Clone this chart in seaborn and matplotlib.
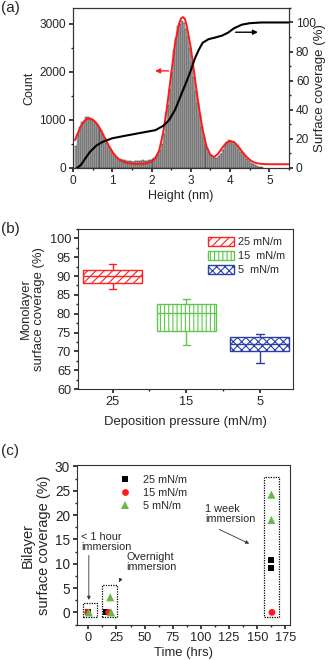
import numpy as np
import pandas as pd
import matplotlib.pyplot as plt
from matplotlib.patches import Patch, Rectangle
from matplotlib.ticker import MultipleLocator
import seaborn as sns


# (a) height histogram, 0.05 nm bins starting at 0.05 nm
HIST_START = 0.05
HIST_WIDTH = 0.05
HIST_COUNTS = [
    450, 700, 860, 950, 960, 1060, 1070, 1040, 1000, 980,
    940, 900, 850, 780, 700, 620, 520, 440, 380, 320,
    260, 220, 190, 180, 170, 165, 150, 140, 140, 130,
    150, 140, 140, 150, 160, 140, 150, 160, 170, 190,
    200, 240, 300, 380, 500, 700, 950, 1300, 1650, 2000,
    2450, 2700, 2950, 3000, 3050, 3020, 2900, 2750, 2500, 2200,
    1900, 1600, 1350, 1100, 850, 650, 500, 400, 320, 260,
    220, 200, 210, 240, 300, 380, 470, 540, 580, 570,
    540, 500, 450, 400, 340, 290, 240, 190, 150, 110,
    80, 60, 40, 30, 20, 10,
]

# (a) gaussian fit (red)
FIT_X = [0.05, 0.1, 0.2, 0.3, 0.4, 0.5, 0.6, 0.7, 0.8, 0.9, 1.0, 1.1, 1.2,
         1.3, 1.4, 1.5, 1.6, 1.7, 1.8, 1.9, 2.0, 2.1, 2.2, 2.3, 2.4, 2.5,
         2.6, 2.7, 2.75, 2.8, 2.85, 2.9, 3.0, 3.1, 3.2, 3.3, 3.4, 3.5, 3.6,
         3.7, 3.8, 3.9, 4.0, 4.1, 4.2, 4.3, 4.4, 4.5, 4.6, 4.7, 4.8, 4.9,
         5.0, 5.5]
FIT_Y = [580, 680, 870, 990, 1030, 1010, 930, 800, 640, 480, 340, 230, 160,
         120, 100, 90, 85, 85, 90, 100, 130, 200, 380, 750, 1300, 1950,
         2600, 3000, 3110, 3140, 3100, 2950, 2500, 1900, 1300, 800, 450, 270,
         230, 300, 420, 520, 560, 540, 460, 350, 250, 170, 120, 95, 85, 80,
         78, 78]

# (a) cumulative surface coverage (black)
COV_X = [0.1, 0.2, 0.3, 0.43, 0.6, 0.76, 1.0, 1.3, 1.6, 1.9, 2.1, 2.3, 2.45,
         2.6, 2.75, 2.9, 3.0, 3.1, 3.2, 3.3, 3.45, 3.6, 3.8, 3.95, 4.1, 4.3,
         4.5, 4.8, 5.5]
COV_Y = [0, 2, 6, 11, 15.5, 18, 20.4, 22, 23.5, 25, 26, 29, 33, 40, 50, 60,
         67, 75, 81, 86, 88.5, 89.5, 91, 93, 96, 98.5, 99.5, 100, 100]

# (b) monolayer coverage: min, q1, median, q3, max
PRESSURES = ["25", "15", "5"]
BOX_STATS = {
    "25": [86.6, 88.2, 90.0, 91.6, 93.3],
    "15": [71.8, 75.3, 80.2, 82.7, 83.9],
    "5": [67.0, 70.0, 72.0, 73.8, 74.6],
}
BOX_LABELS = ["25 mN/m", "15  mN/m", "5  mN/m"]
BOX_COLORS = ["#ff2020", "#5ec84a", "#2a3fa8"]
BOX_HATCHES = ["////", "||||", "xxxx"]

# (c) bilayer coverage vs time
SERIES = ["25 mN/m", "15 mN/m", "5 mN/m"]
TIME_25 = [0, 16, 162, 162]
COV_25 = [0, 0, 10.8, 9.1]
TIME_15 = [-0.5, 18, 163]
COV_15 = [0, 0, 0]
TIME_5 = [0.5, 19.5, 20.2, 162.5, 162.5]
COV_5 = [0, 3.1, 0, 24.2, 19.0]
SCATTER_COLORS = ["black", "#ff1a1a", "#66b84a"]
MARKERS = ["s", "o", "^"]
MARKER_SIZES = [18, 24, 34]


sns.set_theme(style="ticks")
plt.rcParams["font.family"] = ["Liberation Sans", "DejaVu Sans"]
plt.rcParams.update({
    "font.size": 9,
    "axes.labelsize": 9.2,
    "xtick.labelsize": 9,
    "ytick.labelsize": 9,
    "axes.linewidth": 0.8,
    "axes.edgecolor": "#333333",
    "xtick.direction": "out",
    "ytick.direction": "out",
    "xtick.major.size": 3,
    "ytick.major.size": 3,
    "xtick.minor.size": 1.5,
    "ytick.minor.size": 1.5,
    "xtick.major.pad": 2,
    "ytick.major.pad": 2,
    "hatch.linewidth": 0.8,
})

fig = plt.figure(figsize=(3.31, 6.6), dpi=100)


def plot_histogram(ax):
    edges = HIST_START + HIST_WIDTH * np.arange(len(HIST_COUNTS) + 1)
    hist_df = pd.DataFrame({"height": edges[:-1] + HIST_WIDTH / 2,
                            "count": HIST_COUNTS})
    sns.histplot(data=hist_df, x="height", weights="count",
                 bins=edges.tolist(), ax=ax,
                 color="#b8b8b8", edgecolor="#111111", linewidth=0.3, alpha=1)
    sns.lineplot(x=FIT_X, y=FIT_Y, ax=ax, color="#ff1a1a", linewidth=1.4)

    ax.set_xlim(0, 5.5)
    ax.set_ylim(0, 3330)
    ax.set_xticks([0, 1, 2, 3, 4, 5])
    ax.xaxis.set_minor_locator(MultipleLocator(0.5))
    ax.set_yticks([0, 1000, 2000, 3000])
    ax.yaxis.set_minor_locator(MultipleLocator(500))
    ax.tick_params(labelsize=8.6)
    ax.set_xlabel("Height (nm)", labelpad=2, fontsize=9)
    ax.set_ylabel("Count", labelpad=3, fontsize=9)

    ax.annotate("", xy=(2.02, 2020), xytext=(2.5, 2020),
                arrowprops=dict(arrowstyle="-|>", color="#ff1a1a", lw=1,
                                mutation_scale=7))

    ax2 = ax.twinx()
    sns.lineplot(x=COV_X, y=COV_Y, ax=ax2, color="black", linewidth=1.5)
    ax2.set_ylim(0, 110)
    ax2.set_yticks([0, 20, 40, 60, 80, 100])
    ax2.yaxis.set_minor_locator(MultipleLocator(10))
    ax2.tick_params(labelsize=8.6)
    ax2.set_ylabel("Surface coverage (%)", labelpad=-1, fontsize=9.5)
    ax2.annotate("", xy=(4.78, 93.3), xytext=(4.07, 93.3),
                 arrowprops=dict(arrowstyle="-|>", color="black", lw=1,
                                 mutation_scale=7))


def plot_boxes(ax):
    rows = []
    for p in PRESSURES:
        for v in BOX_STATS[p]:
            rows.append({"pressure": p, "coverage": v})
    df = pd.DataFrame(rows)

    sns.boxplot(data=df, x="pressure", y="coverage", order=PRESSURES,
                whis=(0, 100), width=0.8, fill=True, ax=ax,
                capwidths=0.1, linewidth=1)

    boxes = sorted(ax.patches, key=lambda p: p.get_path().vertices[:, 0].mean())
    for patch, color, hatch in zip(boxes, BOX_COLORS, BOX_HATCHES):
        patch.set_facecolor("white")
        patch.set_edgecolor(color)
        patch.set_hatch(hatch)
        patch.set_linewidth(1)
    for line in ax.lines:
        xd = np.asarray(line.get_xdata(), dtype=float)
        if xd.size == 0:
            continue
        idx = int(round(xd.mean()))
        line.set_color(BOX_COLORS[idx])

    ax.set_xlim(-0.47, 2.45)
    ax.set_ylim(60, 102.5)
    ax.set_yticks(range(60, 101, 5))
    ax.yaxis.set_minor_locator(MultipleLocator(2.5))
    ax.set_xticks([0, 1, 2])
    ax.set_xticklabels(PRESSURES)
    ax.set_xticks([0.5, 1.5], minor=True)
    ax.tick_params(labelsize=9.2)
    ax.set_xlabel("Deposition pressure (mN/m)", labelpad=6, fontsize=9.4)
    ax.set_ylabel("Monolayer\nsurface coverage (%)", labelpad=3, fontsize=9.4)
    for side in ["top", "right"]:
        ax.spines[side].set_visible(True)

    handles = [Patch(facecolor="white", edgecolor=c, hatch=h, linewidth=1)
               for c, h in zip(BOX_COLORS, BOX_HATCHES)]
    ax.legend(handles, BOX_LABELS, loc="upper right", frameon=False,
              fontsize=7.8, handlelength=2.4, handleheight=0.9,
              handletextpad=0.4, labelspacing=0.35, borderaxespad=0.3)


def plot_bilayer(ax):
    df = pd.concat([
        pd.DataFrame({"time": TIME_25, "coverage": COV_25, "series": SERIES[0]}),
        pd.DataFrame({"time": TIME_15, "coverage": COV_15, "series": SERIES[1]}),
        pd.DataFrame({"time": TIME_5, "coverage": COV_5, "series": SERIES[2]}),
    ], ignore_index=True)

    sns.scatterplot(data=df, x="time", y="coverage", hue="series",
                    style="series", size="series", hue_order=SERIES,
                    style_order=SERIES, size_order=SERIES,
                    palette=dict(zip(SERIES, SCATTER_COLORS)),
                    markers=dict(zip(SERIES, MARKERS)),
                    sizes=dict(zip(SERIES, MARKER_SIZES)),
                    edgecolor="none", ax=ax, zorder=3)

    ax.set_xlim(-10, 179)
    ax.set_ylim(-2.6, 30.3)
    ax.set_xticks(range(0, 176, 25))
    ax.xaxis.set_minor_locator(MultipleLocator(12.5))
    ax.set_yticks(range(0, 31, 5))
    ax.yaxis.set_minor_locator(MultipleLocator(2.5))
    ax.tick_params(axis="y", labelsize=9.8)
    ax.tick_params(axis="x", labelsize=9.2)
    ax.set_xlabel("Time (hrs)", labelpad=2, fontsize=9.4)
    ax.set_ylabel("Bilayer\nsurface coverage (%)", labelpad=3, fontsize=10.5)
    for side in ["top", "right"]:
        ax.spines[side].set_visible(True)

    # dotted group outlines
    for x0, y0, w, h in [(-4.7, -1.0, 12.3, 2.85), (12.3, -1.0, 12.9, 6.6),
                         (156, -0.9, 13, 28.7)]:
        ax.add_patch(Rectangle((x0, y0), w, h, fill=False, linestyle=(0, (1, 1)),
                               linewidth=0.9, edgecolor="black", zorder=2))

    arrow = dict(arrowstyle="-|>", color="#333333", lw=0.6, mutation_scale=5)
    ax.annotate("< 1 hour\nimmersion", xy=(0.5, 2.0), xytext=(-6.3, 16.6),
                fontsize=7.8, va="top", ha="left", linespacing=1.0,
                arrowprops=None)
    ax.annotate("", xy=(0.5, 2.0), xytext=(0.5, 12.3), arrowprops=arrow)
    ax.annotate("Overnight\nimmersion", xy=(26, 5.7), xytext=(34, 12.4),
                fontsize=7.8, va="top", ha="left", linespacing=1.0)
    ax.annotate("", xy=(26, 5.7), xytext=(30, 7.4), arrowprops=arrow)
    ax.annotate("1 week\nimmersion", xy=(145, 13.9), xytext=(104, 22.3),
                fontsize=7.8, va="top", ha="left", linespacing=1.0)
    ax.annotate("", xy=(145, 13.9), xytext=(114, 17.3), arrowprops=arrow)

    sns.move_legend(ax, "upper left", bbox_to_anchor=(0.13, 1.0), title=None,
                    frameon=False, fontsize=7.8, handletextpad=0.6,
                    labelspacing=0.3)


ax_a = fig.add_axes([0.2205, 0.7455, 0.6525, 0.2425])
ax_b = fig.add_axes([0.2356, 0.4106, 0.6495, 0.2424])
ax_c = fig.add_axes([0.2326, 0.053, 0.6435, 0.2424])

plot_histogram(ax_a)
plot_boxes(ax_b)
plot_bilayer(ax_c)

for label, y in [("(a)", 0.998), ("(b)", 0.664), ("(c)", 0.327)]:
    fig.text(0.003, y, label, fontsize=11, va="top", ha="left")

fig.savefig("out.png", dpi=100)
plt.close(fig)
